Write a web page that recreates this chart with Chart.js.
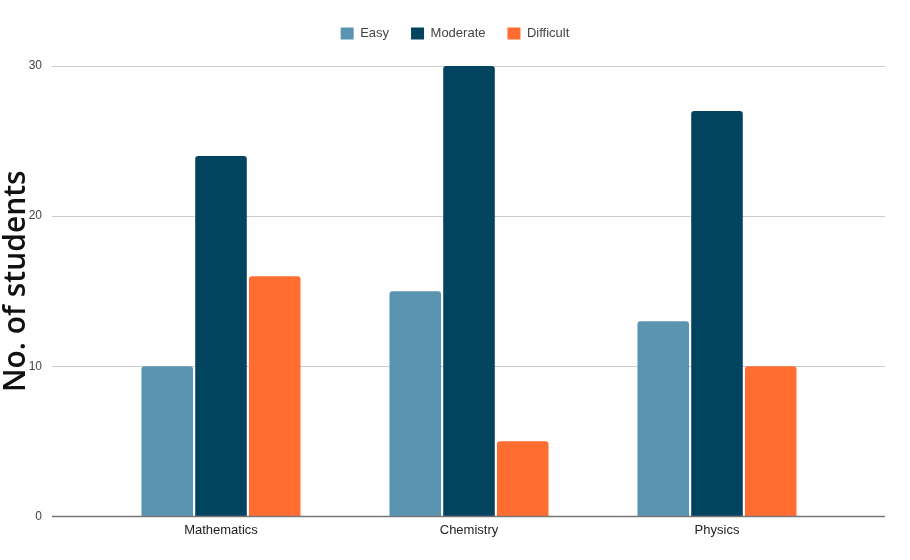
<!DOCTYPE html>
<html>
<head>
<meta charset="utf-8">
<script src="https://cdn.jsdelivr.net/npm/chart.js@4/dist/chart.umd.min.js"></script>
<style>
  html, body { margin: 0; padding: 0; background: #ffffff; overflow: hidden; }
  canvas { display: block; }
</style>
</head>
<body>
<canvas id="c" width="910" height="560"></canvas>
<script>
// ---- data ----
const categories = ['Mathematics', 'Chemistry', 'Physics'];
const seriesNames = ['Easy', 'Moderate', 'Difficult'];
const easyValues = [10, 15, 13];
const moderateValues = [24, 30, 27];
const difficultValues = [16, 5, 10];
const yTickValues = [0, 10, 20, 30];
const yAxisTitle = 'No. of students';

// ---- styles ----
const seriesColors = ['#5b94b1', '#02435f', '#ff6d30'];
const sansFont = '"Liberation Sans", Arial, sans-serif';
const titleFont = '600 30px "Open Sans", sans-serif';

// Grid lines reaching past the plot area on both sides
const extendedGrid = {
  id: 'extendedGrid',
  beforeDatasetsDraw(chart) {
    const { ctx, chartArea: a, scales: { y } } = chart;
    ctx.save();
    ctx.strokeStyle = '#cccccc';
    ctx.lineWidth = 1;
    y.ticks.forEach(t => {
      if (t.value === yTickValues[0]) return;
      const py = Math.round(y.getPixelForValue(t.value)) + 0.5;
      ctx.beginPath();
      ctx.moveTo(a.left - 45, py);
      ctx.lineTo(a.right + 44, py);
      ctx.stroke();
    });
    ctx.restore();
  },
  afterDatasetsDraw(chart) {
    const { ctx, chartArea: a, scales: { y } } = chart;
    const py = y.getPixelForValue(yTickValues[0]);
    ctx.save();
    ctx.strokeStyle = '#777777';
    ctx.lineWidth = 1.5;
    ctx.beginPath();
    ctx.moveTo(a.left - 45, py);
    ctx.lineTo(a.right + 44, py);
    ctx.stroke();
    ctx.restore();
  }
};

// Vertical axis title, sitting slightly above the plot's middle
const yTitlePlugin = {
  id: 'yTitlePlugin',
  afterDraw(chart) {
    const { ctx, chartArea: a, scales: { y } } = chart;
    ctx.save();
    ctx.translate(y.left + 16.5, (a.top + a.bottom) / 2 - 10);
    ctx.rotate(-Math.PI / 2);
    ctx.font = titleFont;
    ctx.fillStyle = '#111111';
    ctx.textAlign = 'center';
    ctx.textBaseline = 'middle';
    ctx.fillText(yAxisTitle, 0, 0);
    ctx.restore();
  }
};

// Extra space between legend and plot area
const legendSpacer = {
  id: 'legendSpacer',
  beforeLayout(chart) {
    const lg = chart.legend;
    if (lg && !lg._spacerPatched) {
      const fit = lg.fit;
      lg.fit = function () { fit.apply(this, arguments); this.height += 16; };
      lg._spacerPatched = true;
    }
  }
};

const seriesData = [easyValues, moderateValues, difficultValues];

new Chart(document.getElementById('c'), {
  type: 'bar',
  data: {
    labels: categories,
    datasets: seriesNames.map((name, i) => ({
      label: name,
      data: seriesData[i],
      backgroundColor: seriesColors[i],
      borderWidth: 0,
      borderRadius: { topLeft: 3, topRight: 3, bottomLeft: 0, bottomRight: 0 },
      borderSkipped: 'bottom',
      categoryPercentage: 0.65,
      barPercentage: 0.96
    }))
  },
  options: {
    responsive: false,
    animation: false,
    devicePixelRatio: 1,
    layout: { padding: { top: 5, right: 0, bottom: 16, left: 0 } },
    plugins: {
      legend: {
        position: 'top',
        align: 'center',
        labels: {
          boxWidth: 13,
          boxHeight: 12,
          padding: 22,
          color: '#444444',
          font: { family: sansFont, size: 13 }
        }
      },
      tooltip: { enabled: false },
      title: { display: false }
    },
    scales: {
      x: {
        type: 'category',
        offset: true,
        grid: { display: false, drawTicks: false },
        border: { display: false },
        ticks: {
          color: '#222222',
          padding: 6,
          maxRotation: 0,
          font: { family: sansFont, size: 13 }
        }
      },
      y: {
        min: yTickValues[0],
        max: yTickValues[yTickValues.length - 1],
        afterBuildTicks(scale) { scale.ticks = yTickValues.map(v => ({ value: v })); },
        afterFit(scale) {
          scale.width = 97;
          scale.paddingTop = 8;
          scale.paddingBottom = 8;
        },
        grid: { display: false, drawTicks: false },
        border: { display: false },
        ticks: {
          color: '#444444',
          padding: 55,
          font: { family: sansFont, size: 12 }
        },
        title: { display: false, text: yAxisTitle }
      },
      yRightSpace: {
        type: 'linear',
        position: 'right',
        display: true,
        afterFit(scale) { scale.width = 69; },
        grid: { display: false, drawTicks: false },
        border: { display: false },
        ticks: { display: false }
      }
    }
  },
  plugins: [extendedGrid, legendSpacer, yTitlePlugin]
});
</script>
</body>
</html>
